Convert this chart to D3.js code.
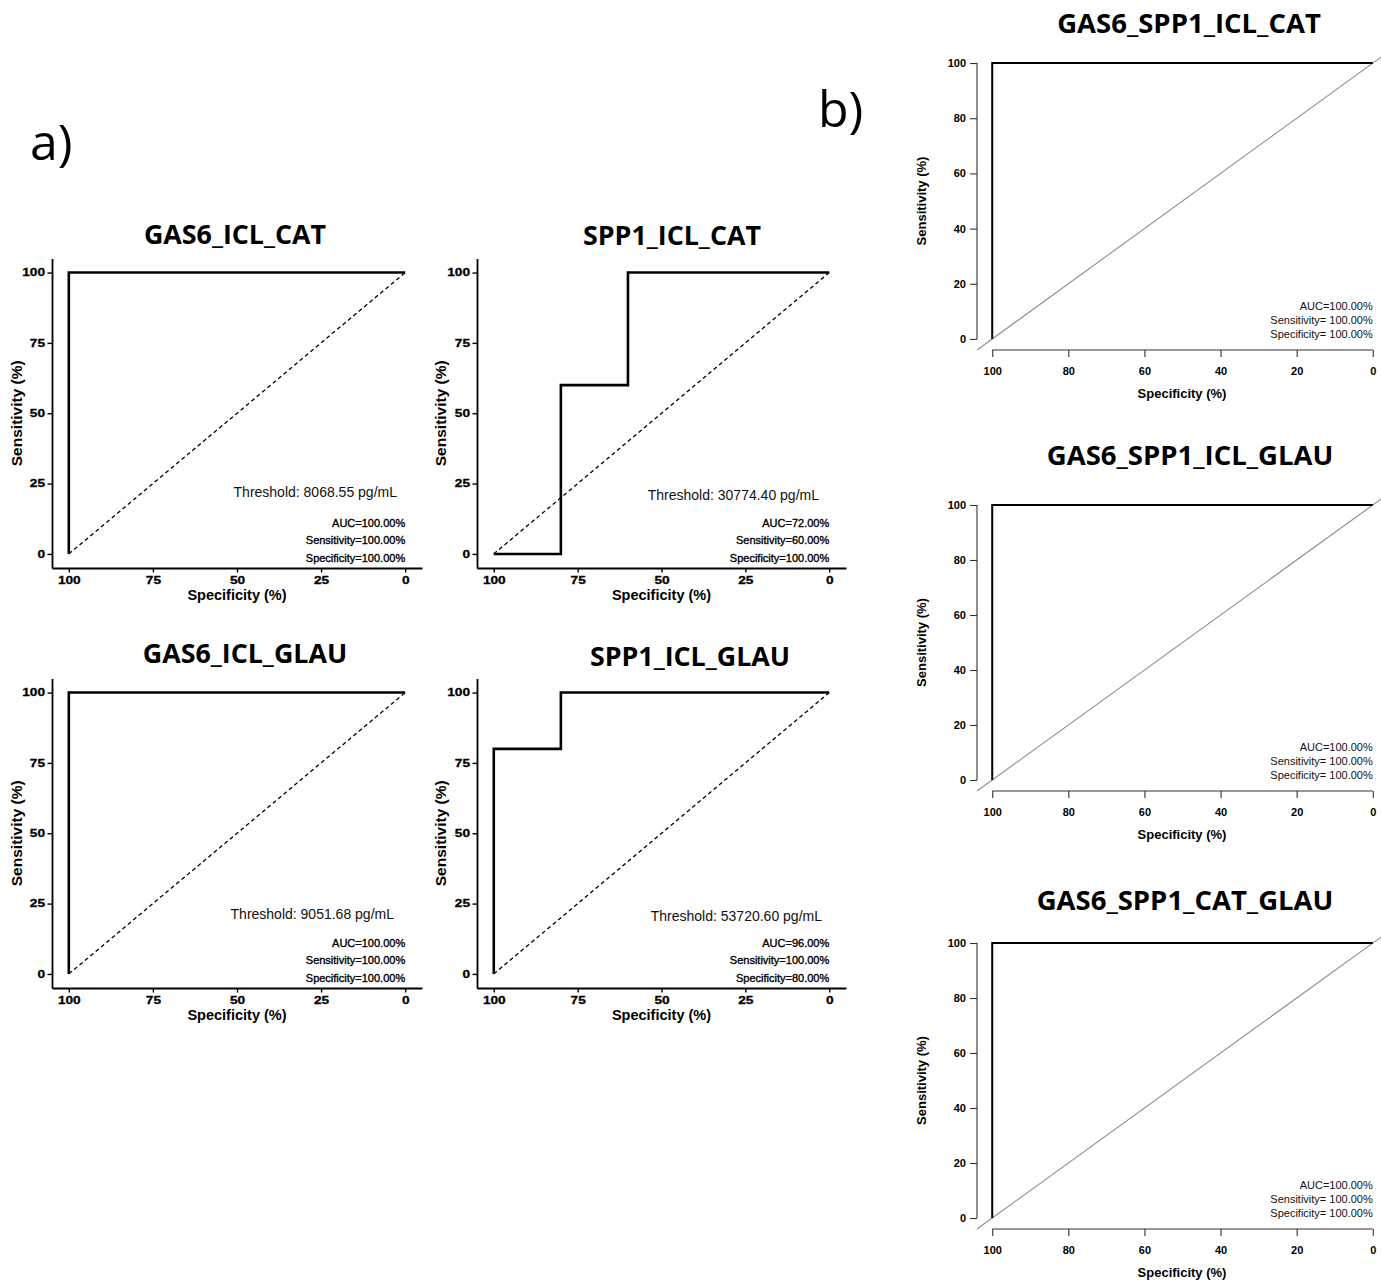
<!DOCTYPE html>
<html><head><meta charset="utf-8">
<script src="https://cdn.jsdelivr.net/npm/d3@7"></script>
<style>body{margin:0;background:#fff}</style>
</head><body><svg id="chart" width="1381" height="1283"></svg>
<script>
// ---------- data ----------
const panelTitlesA = ["GAS6_ICL_CAT", "SPP1_ICL_CAT", "GAS6_ICL_GLAU", "SPP1_ICL_GLAU"];
const specGAS6_ICL_CAT = [100, 100, 0];
const sensGAS6_ICL_CAT = [0, 100, 100];
const specSPP1_ICL_CAT = [100, 80, 80, 60, 60, 0];
const sensSPP1_ICL_CAT = [0, 0, 60, 60, 100, 100];
const specGAS6_ICL_GLAU = [100, 100, 0];
const sensGAS6_ICL_GLAU = [0, 100, 100];
const specSPP1_ICL_GLAU = [100, 100, 80, 80, 0];
const sensSPP1_ICL_GLAU = [0, 80, 80, 100, 100];
const thresholdsA = ["Threshold: 8068.55 pg/mL", "Threshold: 30774.40 pg/mL", "Threshold: 9051.68 pg/mL", "Threshold: 53720.60 pg/mL"];
const aucTextA = ["AUC=100.00%", "AUC=72.00%", "AUC=100.00%", "AUC=96.00%"];
const sensTextA = ["Sensitivity=100.00%", "Sensitivity=60.00%", "Sensitivity=100.00%", "Sensitivity=100.00%"];
const specTextA = ["Specificity=100.00%", "Specificity=100.00%", "Specificity=100.00%", "Specificity=80.00%"];
const ticksA = [100, 75, 50, 25, 0];

const panelTitlesB = ["GAS6_SPP1_ICL_CAT", "GAS6_SPP1_ICL_GLAU", "GAS6_SPP1_CAT_GLAU"];
const specGAS6_SPP1_ICL_CAT = [100, 100, 0];
const sensGAS6_SPP1_ICL_CAT = [0, 100, 100];
const specGAS6_SPP1_ICL_GLAU = [100, 100, 0];
const sensGAS6_SPP1_ICL_GLAU = [0, 100, 100];
const specGAS6_SPP1_CAT_GLAU = [100, 100, 0];
const sensGAS6_SPP1_CAT_GLAU = [0, 100, 100];
const aucTextB = ["AUC=100.00%", "AUC=100.00%", "AUC=100.00%"];
const sensTextB = ["Sensitivity= 100.00%", "Sensitivity= 100.00%", "Sensitivity= 100.00%"];
const specTextB = ["Specificity= 100.00%", "Specificity= 100.00%", "Specificity= 100.00%"];
const ticksB = [100, 80, 60, 40, 20, 0];

const specA = [specGAS6_ICL_CAT, specSPP1_ICL_CAT, specGAS6_ICL_GLAU, specSPP1_ICL_GLAU];
const sensA = [sensGAS6_ICL_CAT, sensSPP1_ICL_CAT, sensGAS6_ICL_GLAU, sensSPP1_ICL_GLAU];
const specB = [specGAS6_SPP1_ICL_CAT, specGAS6_SPP1_ICL_GLAU, specGAS6_SPP1_CAT_GLAU];
const sensB = [sensGAS6_SPP1_ICL_CAT, sensGAS6_SPP1_ICL_GLAU, sensGAS6_SPP1_CAT_GLAU];

// ---------- layout ----------
const layoutA = [
  {left: 52, right: 422, top: 258.5, bottom: 568, titleX: 235, titleY: 244, thrX: 397, thrY: 497, ylabX: 22},
  {left: 477, right: 846, top: 258.5, bottom: 568, titleX: 672, titleY: 245, thrX: 819, thrY: 500, ylabX: 446},
  {left: 52, right: 422, top: 678.5, bottom: 988, titleX: 245, titleY: 663, thrX: 394, thrY: 919, ylabX: 22},
  {left: 477, right: 846, top: 678.5, bottom: 988, titleX: 690, titleY: 666, thrX: 822, thrY: 921, ylabX: 446}
];
const layoutB = [
  {bottom: 350, top: 52, titleX: 1189, titleY: 33},
  {bottom: 791, top: 494, titleX: 1190, titleY: 465},
  {bottom: 1229, top: 932, titleX: 1185, titleY: 910}
];

const svg = d3.select("#chart");
const titleFont = "'Open Sans', 'Noto Sans', sans-serif";
const bodyFont = "'Liberation Sans', Arial, sans-serif";

svg.append("text").attr("x", 30).attr("y", 160).attr("font-family", titleFont)
  .attr("font-size", 50).text("a)");
svg.append("text").attr("x", 818).attr("y", 127).attr("font-family", titleFont)
  .attr("font-size", 50).text("b)");

const line = d3.line();

// ---------- panel a ----------
layoutA.forEach((L, i) => {
  const g = svg.append("g");
  const x = d3.scaleLinear().domain([105, -5]).range([L.left, L.right]);
  const y = d3.scaleLinear().domain([-5, 105]).range([L.bottom, L.top]);

  g.append("path")
    .attr("d", line([[x(100), y(0)], [x(0), y(100)]]))
    .attr("stroke", "#000").attr("stroke-width", 1.3).attr("stroke-dasharray", "4,3").attr("fill", "none");

  const pts = specA[i].map((s, k) => [x(s), y(sensA[i][k])]);
  g.append("path").attr("d", line(pts)).attr("fill", "none")
    .attr("stroke", "#000").attr("stroke-width", 2.6).attr("stroke-linejoin", "miter");

  const xAx = g.append("g").attr("transform", `translate(0,${L.bottom})`)
    .call(d3.axisBottom(x).tickValues(ticksA).tickSize(4.5).tickPadding(4).tickSizeOuter(0));
  const yAx = g.append("g").attr("transform", `translate(${L.left},0)`)
    .call(d3.axisLeft(y).tickValues(ticksA).tickSize(4.5).tickPadding(3).tickSizeOuter(0));
  [xAx, yAx].forEach(a => {
    a.select(".domain").attr("stroke-width", 1.8);
    a.selectAll(".tick line").attr("stroke-width", 1.4);
    a.selectAll("text").attr("font-family", bodyFont).attr("font-weight", "bold")
      .attr("font-size", 10.5).attr("fill", "#000").attr("stroke", "#000").attr("stroke-width", 0.3);
  });
  xAx.selectAll("text").attr("transform", "scale(1.3,1)");
  yAx.selectAll("text").attr("x", null).attr("transform", "translate(-7,0) scale(1.3,1)");

  g.append("text").attr("x", L.titleX).attr("y", L.titleY).attr("text-anchor", "middle")
    .attr("font-family", titleFont).attr("font-weight", "bold").attr("font-size", 26.8).text(panelTitlesA[i]);
  g.append("text").attr("x", (x(100) + x(0)) / 2).attr("y", L.bottom + 32).attr("text-anchor", "middle")
    .attr("font-family", bodyFont).attr("font-weight", "bold").attr("font-size", 14.5).text("Specificity (%)");
  g.append("text").attr("transform", `translate(${L.ylabX},${(y(0) + y(100)) / 2}) rotate(-90)`)
    .attr("text-anchor", "middle")
    .attr("font-family", bodyFont).attr("font-weight", "bold").attr("font-size", 15.5).text("Sensitivity (%)");

  g.append("text").attr("x", L.thrX).attr("y", L.thrY).attr("text-anchor", "end")
    .attr("font-family", bodyFont).attr("font-size", 14).attr("fill", "#111").text(thresholdsA[i]);
  [aucTextA[i], sensTextA[i], specTextA[i]].forEach((t, k) => {
    g.append("text").attr("x", x(0)).attr("y", y(0) + [-27, -9.5, 8][k]).attr("text-anchor", "end")
      .attr("font-family", bodyFont).attr("font-size", 11).attr("fill", "#000")
      .attr("stroke", "#000").attr("stroke-width", 0.35).text(t);
  });
});

// ---------- panel b ----------
layoutB.forEach((L, i) => {
  const g = svg.append("g");
  const x = d3.scaleLinear().domain([104, -4]).range([977, 1388]);
  const y = d3.scaleLinear().domain([-4, 104]).range([L.bottom, L.top]);

  g.append("path").attr("d", line([[x(104), y(-4)], [x(-4), y(104)]]))
    .attr("stroke", "#8c8c8c").attr("stroke-width", 1.1).attr("fill", "none");

  const pts = specB[i].map((s, k) => [x(s), y(sensB[i][k])]);
  g.append("path").attr("d", line(pts)).attr("fill", "none")
    .attr("stroke", "#000").attr("stroke-width", 2);

  const xAx = g.append("g").attr("transform", `translate(0,${L.bottom})`)
    .call(d3.axisBottom(x).tickValues(ticksB).tickSize(7).tickPadding(10).tickSizeOuter(0));
  const yAx = g.append("g").attr("transform", `translate(977,0)`)
    .call(d3.axisLeft(y).tickValues(ticksB).tickSize(7).tickPadding(4).tickSizeOuter(0));
  xAx.select(".domain").attr("d", `M${x(100)},0H${x(0)}`);
  yAx.select(".domain").attr("d", `M0,${y(0)}V${y(100)}`);
  [xAx, yAx].forEach(a => {
    a.selectAll(".domain, .tick line").attr("stroke", "#333").attr("stroke-width", 1.1);
    a.selectAll("text").attr("font-family", bodyFont).attr("font-weight", "bold")
      .attr("font-size", 11).attr("fill", "#000");
  });

  g.append("text").attr("x", L.titleX).attr("y", L.titleY).attr("text-anchor", "middle")
    .attr("font-family", titleFont).attr("font-weight", "bold").attr("font-size", 27.5).text(panelTitlesB[i]);
  g.append("text").attr("x", 1182).attr("y", L.bottom + 48).attr("text-anchor", "middle")
    .attr("font-family", bodyFont).attr("font-weight", "bold").attr("font-size", 13).text("Specificity (%)");
  g.append("text").attr("transform", `translate(926,${(y(0) + y(100)) / 2}) rotate(-90)`)
    .attr("text-anchor", "middle")
    .attr("font-family", bodyFont).attr("font-weight", "bold").attr("font-size", 13).text("Sensitivity (%)");

  [aucTextB[i], sensTextB[i], specTextB[i]].forEach((t, k) => {
    g.append("text").attr("x", x(0)).attr("y", y(0) + [-29, -15, -1][k]).attr("text-anchor", "end")
      .attr("font-family", bodyFont).attr("font-size", 11).attr("fill", "#111").text(t);
  });
});
</script></body></html>
